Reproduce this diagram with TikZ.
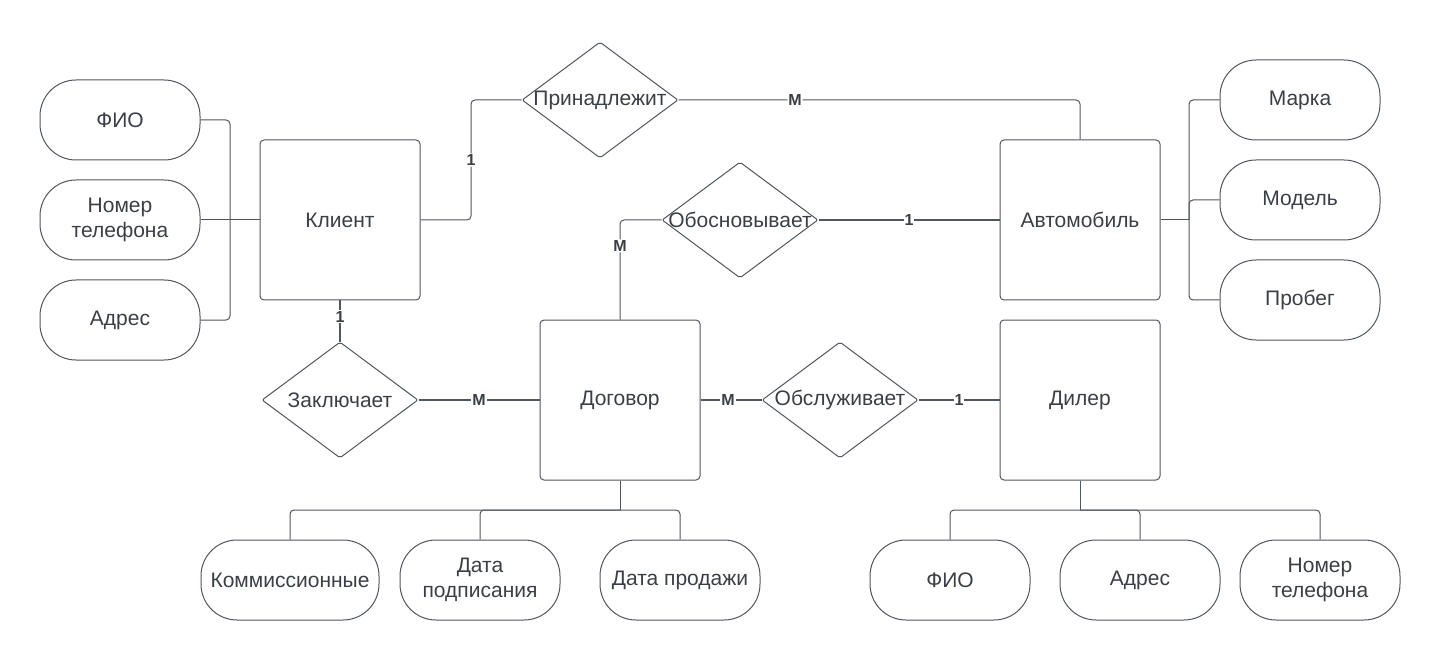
\documentclass[tikz,border=0pt]{standalone}
\usepackage{fontspec}
\setmainfont{Liberation Sans}
\usetikzlibrary{shapes.geometric}
\definecolor{ink}{HTML}{3A3F46}
\definecolor{edge}{HTML}{50565E}
\begin{document}
\begin{tikzpicture}[x=1pt,y=-1pt,
  every node/.style={text=ink, font=\fontsize{21}{25}\selectfont},
  entity/.style={draw=edge, line width=1pt, rounded corners=4pt, minimum width=160pt, minimum height=160pt, inner sep=0pt},
  attr/.style={draw=edge, line width=1pt, rounded corners=36pt, minimum width=160pt, minimum height=80pt, inner sep=0pt, align=center},
  rel/.style={draw=edge, line width=1pt, diamond, rounded corners=2pt, minimum width=156pt, minimum height=116pt, inner sep=0pt},
  link/.style={draw=edge, line width=1pt, rounded corners=4pt},
  strong/.style={draw=edge, line width=1.5pt},
  card/.style={fill=white, inner sep=1pt, font=\bfseries\fontsize{16}{16}\selectfont}
]
\useasboundingbox (0,0) rectangle (1440,660);

% client and its attributes
\node[attr] (cFio) at (120,120) {ФИО};
\node[attr] (cPhone) at (120,220) {Номер\\телефона};
\node[attr] (cAddr) at (120,320) {Адрес};
\node[entity] (client) at (340,220) {Клиент};

% relationships
\node[rel] (owns) at (600,100) {\makebox[0pt]{Принадлежит}};
\node[rel] (justifies) at (740,220) {\makebox[0pt]{Обосновывает}};
\node[rel] (signs) at (340,400) {\makebox[0pt]{Заключает}};
\node[rel] (serves) at (840,400) {\makebox[0pt]{Обслуживает}};

% car and its attributes
\node[entity] (car) at (1080,220) {Автомобиль};
\node[attr] (brand) at (1300,100) {Марка};
\node[attr] (model) at (1300,200) {Модель};
\node[attr] (mileage) at (1300,300) {Пробег};

% contract and its attributes
\node[entity] (contract) at (620,400) {Договор};
\node[attr, minimum width=178pt] (commission) at (290,580) {Коммиссионные};
\node[attr] (signDate) at (480,580) {Дата\\подписания};
\node[attr] (saleDate) at (680,580) {Дата продажи};

% dealer and its attributes
\node[entity] (dealer) at (1080,400) {Дилер};
\node[attr] (dFio) at (950,580) {ФИО};
\node[attr] (dAddr) at (1140,580) {Адрес};
\node[attr] (dPhone) at (1320,580) {Номер\\телефона};

% attribute buses
\coordinate (busL) at (230,220);
\coordinate (busR) at (1189,220);
\coordinate (busC) at (620,510);
\coordinate (busD) at (1080,510);

\draw[link] (cFio.east) -| (busL);
\draw[link] (cAddr.east) -| (busL);
\draw[link] (cPhone.east) -- (client.west);

\draw[link] (car.east) -- (busR);
\draw[link] (busR) |- (brand.west);
\draw[link] (busR) |- (model.west);
\draw[link] (busR) |- (mileage.west);

\draw[link] (contract.south) -- (busC);
\draw[link] (busC) -| (commission.north);
\draw[link] (busC) -| (signDate.north);
\draw[link] (busC) -| (saleDate.north);

\draw[link] (dealer.south) -- (busD);
\draw[link] (busD) -| (dFio.north);
\draw[link] (busD) -| (dAddr.north);
\draw[link] (busD) -| (dPhone.north);

% relationship connectors with cardinalities
\draw[link] (client.east) -- (471,220) -- node[card]{1} (471,100) -- (owns.west);
\draw[link] (owns.east) -- node[card,pos=0.29]{M} (1080,100) -- (car.north);
\draw[link] (justifies.west) -| node[card,pos=0.63]{M} (contract.north);
\draw[strong] (justifies.east) -- node[card]{1} (car.west);
\draw[strong] (client.south) -- node[card,pos=0.4]{1} (signs.north);
\draw[strong] (signs.east) -- node[card]{M} (contract.west);
\draw[strong] (contract.east) -- node[card,pos=0.45]{M} (serves.west);
\draw[strong] (serves.east) -- node[card]{1} (dealer.west);
\end{tikzpicture}
\end{document}
